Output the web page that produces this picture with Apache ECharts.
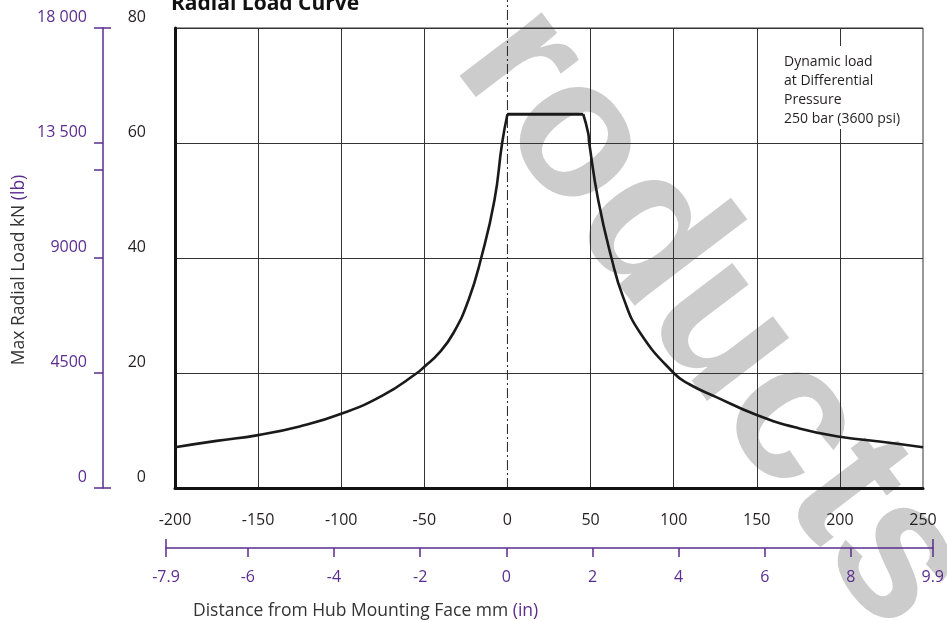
<!DOCTYPE html>
<html><head><meta charset="utf-8">
<script src="https://cdn.jsdelivr.net/npm/echarts@6/dist/echarts.min.js"></script>
<style>html,body{margin:0;padding:0;background:#fff}#c{width:947px;height:621px}</style>
</head><body><div id="c"></div>
<script>
// ---- data ----
const leftDistanceMm = [-200,-175,-150,-125,-100,-75,-54.4,-50,-41.4,-32.4,-23.4,-15.8,-7.8,-3.2,0];
const leftLoadKN     = [7.1,8.2,9.2,10.7,12.9,16.1,20,21.1,23.4,27,32.7,40,50.1,60,65];
const plateauDistanceMm = [0,45.6];
const plateauLoadKN     = [65,65];
const rightDistanceMm = [45.6,48.6,49.2,54.6,62.6,69.6,79.6,100,109.7,125,150,175,200,225,250];
const rightLoadKN     = [65,61.7,60,50.1,40,33.2,27.1,20,18,15.9,12.7,10.4,8.9,8.05,7.1];
const centreLineMm = [0,0];
const centreLineKN = [0,84.9];
const verticalGridMm = [-150,-100,-50,50,100,150,200];
const inchTicks = [-7.9,-6,-4,-2,0,2,4,6,8,9.9];
const lbTicks = [0,4500,9000,13500,18000];
const lbTickLabels = ['0','4500','9000','13 500','18 000'];
const lbExtraTicks = [12470];
const annotationLines = ['Dynamic load','at Differential','Pressure','250 bar (3600 psi)'];

const PURPLE = '#5a2d8f';
const INK = '#231f20';
const FONT = 'Open Sans';
const PLOT_H = 460;

const pairs = (xs, ys) => xs.map((x, i) => [x, ys[i]]);
const lineStyle = {color: '#1a1a1a', width: 2.6};

const chart = echarts.init(document.getElementById('c'), null, {renderer: 'canvas'});
chart.setOption({
  backgroundColor: '#fff',
  animation: false,
  textStyle: {fontFamily: FONT},
  title: [
    {text: 'Radial Load Curve', left: 171, top: -6, padding: 0,
     textStyle: {fontFamily: FONT, fontWeight: 'bold', fontSize: 21, color: '#111'}},
    {text: annotationLines.join('\n'), left: 780, top: 46, padding: [7, 4, 0, 4],
     backgroundColor: '#fff',
     textStyle: {fontFamily: FONT, fontSize: 14, lineHeight: 19, color: INK, fontWeight: 'normal'}},
    {text: 'Distance from Hub Mounting Face mm {p|(in)}', left: 193, top: 602, padding: 0,
     textStyle: {fontFamily: FONT, fontSize: 17.5, color: '#333', fontWeight: 'normal',
       rich: {p: {fontFamily: FONT, fontSize: 17.5, color: PURPLE}}}}
  ],
  graphic: [{
    type: 'text', x: 712, y: 318, rotation: -0.92, z: -10, silent: true,
    style: {text: 'roducts', font: 'bold 196px "Liberation Sans"', fill: '#cccccc',
      textAlign: 'center', textVerticalAlign: 'middle', align: 'center', verticalAlign: 'middle'}
  }],
  grid: [
    {left: 175, right: 24, top: 28, height: PLOT_H, show: true, borderColor: '#333', borderWidth: 1, backgroundColor: 'transparent'},
    {left: 166, right: 14, top: 547, height: 1},
    {left: 103, width: 1, top: 28, height: PLOT_H}
  ],
  xAxis: [
    {gridIndex: 0, type: 'value', min: -200, max: 250, interval: 50, position: 'bottom',
     axisLine: {onZero: false, lineStyle: {color: '#111', width: 3}}, axisTick: {show: false},
     axisLabel: {margin: 24, fontSize: 16, color: INK, fontFamily: FONT},
     splitLine: {show: false}, z: 4},
    {gridIndex: 1, type: 'value', min: -7.9, max: 9.9, position: 'bottom',
     axisLine: {onZero: false, lineStyle: {color: PURPLE, width: 1.5}},
     axisTick: {customValues: inchTicks, length: 9, lineStyle: {color: PURPLE, width: 1.5}},
     axisLabel: {customValues: inchTicks, margin: 21, fontSize: 16, color: PURPLE, fontFamily: FONT},
     splitLine: {show: false}},
    {gridIndex: 1, type: 'value', min: -7.9, max: 9.9, position: 'bottom',
     axisLine: {show: false, onZero: false},
     axisTick: {inside: true, customValues: [-7.9, 9.9], length: 9, lineStyle: {color: PURPLE, width: 1.5}},
     axisLabel: {show: false}, splitLine: {show: false}},
    {gridIndex: 2, type: 'value', show: false},
    {gridIndex: 0, type: 'value', min: -200, max: 250, position: 'top', offset: 0,
     axisLine: {show: false, onZero: false},
     axisTick: {show: true, inside: true, customValues: verticalGridMm, length: PLOT_H, lineStyle: {color: '#333', width: 1}},
     axisLabel: {show: false}, splitLine: {show: false}}
  ],
  yAxis: [
    {gridIndex: 0, type: 'value', min: 0, max: 80, interval: 20,
     axisLine: {show: true, onZero: false, lineStyle: {color: '#111', width: 3}}, axisTick: {show: false},
     axisLabel: {margin: 29, fontSize: 16, color: INK, fontFamily: FONT, verticalAlign: 'bottom', padding: [0, 0, 3, 0]},
     splitLine: {lineStyle: {color: '#333', width: 1}}, z: 4},
    {gridIndex: 1, type: 'value', show: false, min: 0, max: 1},
    {gridIndex: 2, type: 'value', min: 0, max: 18000, position: 'left',
     axisLine: {show: true, onZero: false, lineStyle: {color: PURPLE, width: 1.5}},
     axisTick: {show: true, customValues: lbTicks.concat(lbExtraTicks), length: 9, lineStyle: {color: PURPLE, width: 1.5}},
     axisLabel: {customValues: lbTicks, margin: 16, fontSize: 16, color: PURPLE, fontFamily: FONT,
       verticalAlign: 'bottom', padding: [0, 0, 3, 0],
       formatter: v => lbTickLabels[lbTicks.indexOf(v)]},
     splitLine: {show: false},
     name: 'Max Radial Load kN {p|(lb)}', nameLocation: 'middle', nameRotate: 90, nameGap: 75,
     nameTextStyle: {fontFamily: FONT, fontSize: 17.5, color: '#333', padding: [0, 24, 0, 0],
       rich: {p: {fontFamily: FONT, fontSize: 17.5, color: PURPLE}}}},
    {gridIndex: 2, type: 'value', min: 0, max: 18000, position: 'left',
     axisLine: {show: false, onZero: false},
     axisTick: {show: true, inside: true, customValues: [0, 18000], length: 8, lineStyle: {color: PURPLE, width: 1.5}},
     axisLabel: {show: false}, splitLine: {show: false}}
  ],
  series: [
    {type: 'line', xAxisIndex: 0, yAxisIndex: 0, data: pairs(centreLineMm, centreLineKN),
     clip: false, showSymbol: false, silent: true, z: 3,
     lineStyle: {color: '#222', width: 1, type: [10, 3, 2, 3]}},
    {type: 'line', xAxisIndex: 0, yAxisIndex: 0, data: pairs(leftDistanceMm, leftLoadKN),
     smooth: 0.5, showSymbol: false, lineStyle: lineStyle, z: 5},
    {type: 'line', xAxisIndex: 0, yAxisIndex: 0, data: pairs(plateauDistanceMm, plateauLoadKN),
     showSymbol: false, lineStyle: {color: '#1a1a1a', width: 3}, z: 5},
    {type: 'line', xAxisIndex: 0, yAxisIndex: 0, data: pairs(rightDistanceMm, rightLoadKN),
     smooth: 0.5, showSymbol: false, lineStyle: lineStyle, z: 5}
  ]
});
</script></body></html>
